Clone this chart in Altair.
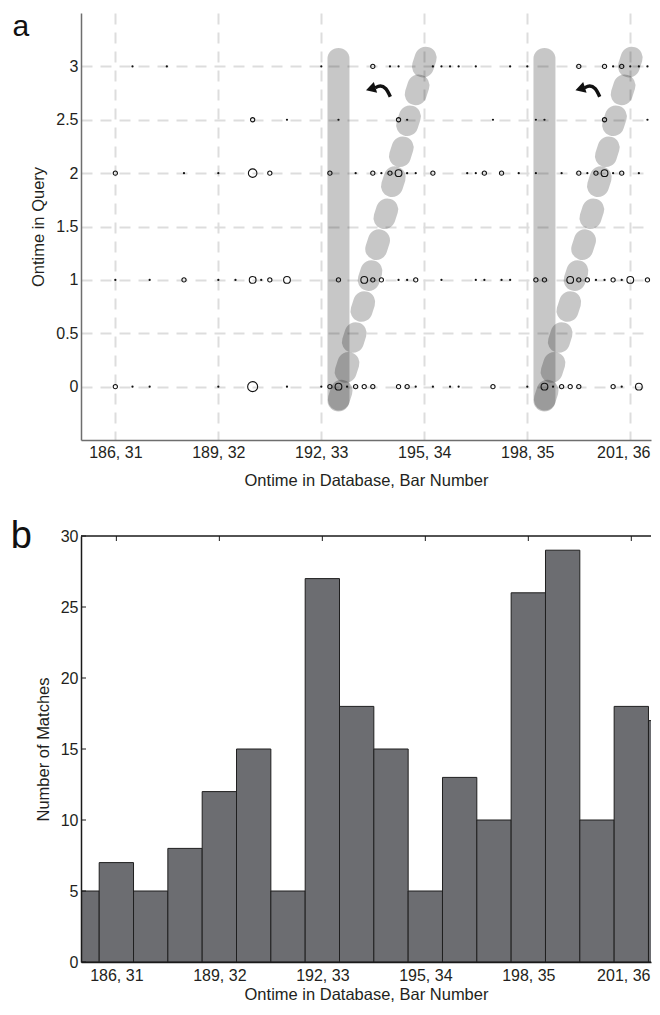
import altair as alt
import pandas as pd

FONT = "Liberation Sans"
INK = "#231f20"

# ---------------- shared axis ticks ----------------
tick_values = [186, 189, 192, 195, 198, 201]
tick_labels = ["186, 31", "189, 32", "192, 33", "195, 34", "198, 35", "201, 36"]
query_ticks = [0, 0.5, 1, 1.5, 2, 2.5, 3]
count_ticks = [0, 5, 10, 15, 20, 25, 30]

# ---------------- panel a: matches ----------------
# n: 1 = tiny dot, 2..5 = open circles of growing size
row3_x = [186.5, 187.5, 192, 193.5, 194, 194.25, 195.25, 195.5, 195.75, 196, 196.5,
          197.5, 198, 199.5, 200.25, 200.5, 200.75, 201, 201.25, 201.5, 201.75]
row3_n = [1, 1, 1, 2, 1, 1, 1, 1, 1, 1, 1, 1, 1, 2, 2, 1, 2, 1, 1, 1, 1]
row25_x = [190, 191, 192.5, 194.25, 194.5, 197, 198.25, 198.5, 200.25, 201.5]
row25_n = [2, 1, 1, 2, 1, 1, 1, 1, 2, 1]
row2_x = [186, 188, 189, 190, 190.5, 192.25, 193, 193.5, 193.75, 194, 194.25, 194.5,
          194.75, 195.25, 196.25, 196.5, 196.75, 197.25, 197.75, 198.25, 199, 199.5,
          199.75, 200, 200.25, 200.5, 200.75, 201.25, 201.75]
row2_n = [2, 1, 1, 4, 2, 2, 1, 2, 1, 2, 3, 1, 1, 2, 1, 1, 2, 2, 1, 1, 1, 2, 1, 2, 3,
          1, 2, 1, 1]
row1_x = [186, 187, 188, 189, 189.5, 190, 190.25, 190.5, 191, 192.5, 193.25, 193.5,
          193.75, 194.25, 194.5, 194.75, 195.5, 196.5, 196.75, 197.25, 197.5, 198.25,
          198.5, 199.25, 199.5, 199.75, 200, 200.25, 200.5, 200.75, 201, 201.5, 201.75]
row1_n = [1, 1, 2, 1, 1, 3, 1, 2, 3, 2, 3, 2, 2, 1, 1, 2, 1, 1, 1, 1, 1, 2, 2, 3, 2,
          2, 1, 1, 2, 1, 3, 2, 1]
row0_x = [186, 186.5, 187, 189, 190, 191, 192, 192.25, 192.5, 192.75, 193, 193.25,
          193.5, 194.25, 194.5, 194.75, 195.25, 195.75, 196, 197, 198, 198.5, 198.75,
          199, 199.25, 199.5, 200.5, 200.75, 201.25, 201.75]
row0_n = [2, 1, 1, 1, 5, 1, 1, 2, 3, 1, 2, 2, 2, 2, 2, 1, 1, 1, 1, 2, 1, 3, 1, 2, 2,
          2, 2, 1, 3, 1]

# straight (vertical) path bands
vbar_x = [192.5, 198.5]
vbar_y1 = [-0.13, -0.13]
vbar_y2 = [3.07, 3.07]

# tilted path: chain of short rounded segments (two copies)
seg_x1 = [194.96, 194.75, 194.50, 194.29, 194.06, 193.84, 193.60, 193.38, 193.17, 192.92, 192.71, 192.51,
          200.96, 200.75, 200.50, 200.29, 200.06, 199.84, 199.60, 199.38, 199.17, 198.92, 198.71, 198.51]
seg_x2 = [195.04, 194.83, 194.58, 194.37, 194.14, 193.92, 193.68, 193.46, 193.25, 193.00, 192.79, 192.59,
          201.04, 200.83, 200.58, 200.37, 200.14, 199.92, 199.68, 199.46, 199.25, 199.00, 198.79, 198.59]
seg_y1 = [3.00, 2.74, 2.45, 2.16, 1.88, 1.58, 1.29, 1.00, 0.71, 0.42, 0.14, -0.12,
          3.00, 2.74, 2.45, 2.16, 1.88, 1.58, 1.29, 1.00, 0.71, 0.42, 0.14, -0.12]
seg_y2 = [3.08, 2.82, 2.53, 2.24, 1.96, 1.66, 1.37, 1.08, 0.79, 0.50, 0.22, -0.04,
          3.08, 2.82, 2.53, 2.24, 1.96, 1.66, 1.37, 1.08, 0.79, 0.50, 0.22, -0.04]

# curved arrows (annotation)
arrow_x = [193.57, 193.72, 193.88, 194.01, 199.67, 199.82, 199.98, 200.11]
arrow_y = [2.80, 2.815, 2.79, 2.715, 2.80, 2.815, 2.79, 2.715]
arrow_id = [1, 1, 1, 1, 2, 2, 2, 2]
head_x = [193.44, 199.54]
head_y = [2.79, 2.79]

# ---------------- panel b: histogram ----------------
bar_onset = [185, 186, 187, 188, 189, 190, 191, 192, 193, 194, 195, 196, 197, 198,
             199, 200, 201, 202]
bar_count = [5, 7, 5, 8, 12, 15, 5, 27, 18, 15, 5, 13, 10, 26, 29, 10, 18, 17]

# ---------------- frames ----------------
match_rows = []
for yv, xs, ns in [(3, row3_x, row3_n), (2.5, row25_x, row25_n), (2, row2_x, row2_n),
                   (1, row1_x, row1_n), (0, row0_x, row0_n)]:
    for xv, nv in zip(xs, ns):
        match_rows.append({"x": xv, "y": yv, "n": nv})
matches = pd.DataFrame(match_rows)
vbars = pd.DataFrame({"x1": vbar_x, "y1": vbar_y1, "y2": vbar_y2})
segs = pd.DataFrame({"x1": seg_x1, "x2": seg_x2, "y1": seg_y1, "y2": seg_y2})
arrows = pd.DataFrame({"x": arrow_x, "y": arrow_y, "id": arrow_id})
heads = pd.DataFrame({"x": head_x, "y": head_y})
bars_df = pd.DataFrame({"onset": bar_onset, "count": bar_count})

W = 570
H_TOP = 427
H_BOT = 426
PX_PER_UNIT = 34.33

label_expr = ("[" + ",".join("'%s'" % l for l in tick_labels) + "][indexof(["
              + ",".join(str(v) for v in tick_values) + "], datum.value)]")

xs_top = alt.Scale(domain=[185, 185 + W / PX_PER_UNIT], nice=False, zero=False)
ys_top = alt.Scale(domain=[-0.5, 3.5], nice=False, zero=False)
xs_bot = alt.Scale(domain=[184.97, 184.97 + W / PX_PER_UNIT], nice=False, zero=False)
ys_bot = alt.Scale(domain=[0, 30], nice=False, zero=False)

common_axis = dict(labelFont=FONT, labelFontSize=16, labelColor=INK,
                   titleFont=FONT, titleFontSize=16.5, titleFontWeight="normal",
                   titleColor=INK, labelFlush=False, labelOverlap=False)

x_axis_top = alt.Axis(title="Ontime in Database, Bar Number", values=tick_values,
                      labelExpr=label_expr, grid=True, gridColor="#dddddd", gridWidth=2,
                      gridDash=[11, 8], ticks=False, tickSize=0, domainColor="#6e6e6e",
                      domainWidth=1.5, labelPadding=4.5, titlePadding=12,
                      labelOffset={"condition": {"test": "datum.value === 201", "value": -7},
                                   "value": 0},
                      **common_axis)
y_axis_top = alt.Axis(title="Ontime in Query", values=query_ticks, format="~g",
                      grid=True, gridColor="#dddddd", gridWidth=2, gridDash=[11, 8],
                      ticks=False, tickSize=0, domainColor="#6e6e6e", domainWidth=1.5,
                      labelPadding=3, titlePadding=9.4, **common_axis)


def xt(field):
    return alt.X(field, type="quantitative", scale=xs_top, axis=x_axis_top)


def yt(field):
    return alt.Y(field, type="quantitative", scale=ys_top, axis=y_axis_top)


band_color = "#000000"
band_opacity = 0.22

vbar_layer = alt.Chart(vbars).mark_rule(
    strokeWidth=22, strokeCap="round", color=band_color, opacity=band_opacity, clip=True
).encode(x=xt("x1"), y=yt("y1"), y2="y2:Q")

seg_layer = alt.Chart(segs).mark_rule(
    strokeWidth=22, strokeCap="round", color=band_color, opacity=band_opacity, clip=True
).encode(x=xt("x1"), x2="x2:Q", y=yt("y1"), y2="y2:Q")

dots_layer = alt.Chart(matches).transform_filter("datum.n == 1").mark_circle(
    size=5, color="#111111", opacity=1, clip=True
).encode(x=xt("x"), y=yt("y"))

circ_layer = alt.Chart(matches).transform_filter("datum.n > 1").mark_point(
    shape="circle", filled=False, color="#111111", strokeWidth=1.1, opacity=1, clip=True
).encode(
    x=xt("x"), y=yt("y"),
    size=alt.Size("n:Q", scale=alt.Scale(domain=[2, 5], range=[18, 100]), legend=None),
)

arrow_layer = alt.Chart(arrows).mark_line(
    interpolate="monotone", strokeWidth=3.5, color="#111111", strokeCap="butt"
).encode(x=xt("x"), y=yt("y"), detail="id:N")

head_layer = alt.Chart(heads).mark_point(
    shape="triangle-left", filled=True, size=130, angle=343, color="#111111", opacity=1
).encode(x=xt("x"), y=yt("y"))

label_a = alt.Chart(pd.DataFrame({"t": ["a"]})).mark_text(
    font=FONT, fontSize=30, color="#111111", align="left", baseline="alphabetic"
).encode(x=alt.value(-68.5), y=alt.value(23.4), text="t:N")

top = alt.layer(vbar_layer, seg_layer, dots_layer, circ_layer, arrow_layer,
                head_layer, label_a).properties(width=W, height=H_TOP)

# ---------------- bottom chart ----------------
x_axis_bot = alt.Axis(title="Ontime in Database, Bar Number", values=tick_values,
                      labelExpr=label_expr, grid=False, ticks=False, tickSize=0,
                      domainColor="#1a1a1a", domainWidth=1.5, labelPadding=5,
                      titlePadding=3, zindex=1,
                      labelOffset={"condition": {"test": "datum.value === 201", "value": -8},
                                   "value": 0},
                      **common_axis)
y_axis_bot = alt.Axis(title="Number of Matches", values=count_ticks, grid=False,
                      ticks=False, tickSize=0, domainColor="#1a1a1a", domainWidth=1.5,
                      labelPadding=3, titlePadding=8.4, zindex=1, **common_axis)


def xb(field):
    return alt.X(field, type="quantitative", scale=xs_bot, axis=x_axis_bot)


def yb(field):
    return alt.Y(field, type="quantitative", scale=ys_bot, axis=y_axis_bot)


bar_layer = alt.Chart(bars_df).transform_calculate(
    x0="datum.onset - 0.5", x1="datum.onset + 0.5", y0="0"
).mark_bar(color="#6c6d71", stroke="#1f1f1f", strokeWidth=1, clip=True).encode(
    x=xb("x0"), x2="x1:Q", y=yb("count"), y2="y0:Q",
)

top_border = alt.Chart(pd.DataFrame({"v": [0]})).mark_rule(
    color="#1a1a1a", strokeWidth=1.5
).encode(x=alt.value(0), x2=alt.value(W), y=alt.value(0))

top_ticks = alt.Chart(pd.DataFrame({"t": tick_values})).mark_rule(
    color="#1a1a1a", strokeWidth=1
).encode(x=xb("t"), y=alt.value(0), y2=alt.value(5))

left_ticks = alt.Chart(pd.DataFrame({"c": count_ticks})).mark_rule(
    color="#1a1a1a", strokeWidth=1
).encode(y=yb("c"), x=alt.value(0), x2=alt.value(5))

label_b = alt.Chart(pd.DataFrame({"t": ["b"]})).mark_text(
    font=FONT, fontSize=38, color="#111111", align="left", baseline="alphabetic"
).encode(x=alt.value(-70.2), y=alt.value(11.7), text="t:N")

bottom = alt.layer(bar_layer, top_border, top_ticks, left_ticks, label_b).properties(
    width=W, height=H_BOT)

chart = alt.vconcat(top, bottom, spacing=28).properties(
    padding={"top": 4.0, "left": 2, "right": 0, "bottom": 0}
).configure_view(strokeWidth=0)

chart.save("out.html", embed_options={"renderer": "svg", "actions": False})
